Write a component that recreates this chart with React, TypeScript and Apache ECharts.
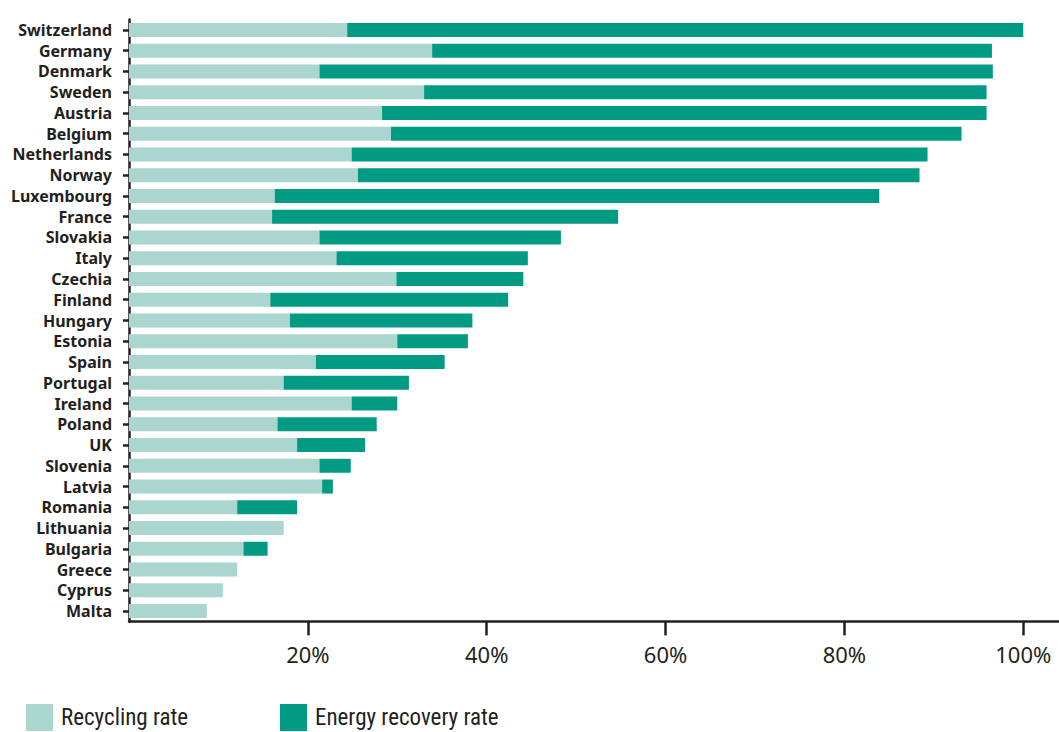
import React, { useEffect, useRef } from "react";
import * as echarts from "echarts";

const countries = [
  "Switzerland", "Germany", "Denmark", "Sweden", "Austria", "Belgium", "Netherlands", "Norway",
  "Luxembourg", "France", "Slovakia", "Italy", "Czechia", "Finland", "Hungary", "Estonia",
  "Spain", "Portugal", "Ireland", "Poland", "UK", "Slovenia", "Latvia", "Romania",
  "Lithuania", "Bulgaria", "Greece", "Cyprus", "Malta",
];

const recyclingRate = [
  24.4, 33.9, 21.3, 33.0, 28.3, 29.3, 24.9, 25.6,
  16.3, 16.0, 21.3, 23.2, 29.9, 15.8, 18.0, 30.0,
  20.9, 17.3, 24.9, 16.6, 18.8, 21.3, 21.6, 12.1,
  17.3, 12.8, 12.1, 10.5, 8.7,
];

const energyRecoveryRate = [
  75.6, 62.6, 75.3, 62.9, 67.6, 63.8, 64.4, 62.8,
  67.6, 38.7, 27.0, 21.4, 14.2, 26.6, 20.4, 7.9,
  14.4, 14.0, 5.1, 11.1, 7.6, 3.5, 1.2, 6.7,
  0, 2.7, 0, 0, 0,
];

const xTickValues = [20, 40, 60, 80, 100];

const DARK = "#231f20";
const LIGHT_GREEN = "#aad6cf";
const DARK_GREEN = "#009b82";

export default function App() {
  const ref = useRef<HTMLDivElement>(null);

  useEffect(() => {
    document.body.style.margin = "0";
    if (!ref.current) return;
    const chart = echarts.init(ref.current, null, { renderer: "svg" });
    const legendText = {
      color: DARK,
      fontSize: 23,
      lineHeight: 24,
      fontFamily: "'Liberation Sans Narrow', 'Roboto Condensed', 'Noto Sans', sans-serif",
      padding: [0, 0, 0, 3],
    };
    chart.setOption({
      animation: false,
      grid: { left: 129, right: 0, top: 19.6, bottom: 110.6 },
      legend: [
        {
          data: ["Recycling rate"],
          left: 26,
          top: 704,
          padding: 0,
          itemWidth: 27,
          itemHeight: 27,
          icon: "rect",
          textStyle: legendText,
          selectedMode: false,
        },
        {
          data: ["Energy recovery rate"],
          left: 280,
          top: 704,
          padding: 0,
          itemWidth: 27,
          itemHeight: 27,
          icon: "rect",
          textStyle: legendText,
          selectedMode: false,
        },
      ],
      xAxis: {
        type: "value",
        min: 0,
        max: 104,
        splitLine: { show: false },
        axisLine: { show: true, lineStyle: { color: DARK, width: 2.5 } },
        axisTick: {
          show: true,
          customValues: xTickValues,
          length: 14,
          lineStyle: { color: DARK, width: 2.5 },
        },
        axisLabel: {
          customValues: xTickValues,
          formatter: (v: number) => `${v}%`,
          color: DARK,
          fontSize: 22,
          margin: 22,
          fontFamily: "'Noto Sans', sans-serif",
        },
      },
      yAxis: {
        type: "category",
        data: countries,
        inverse: true,
        axisLine: { show: true, lineStyle: { color: DARK, width: 2.5 } },
        axisTick: {
          show: true,
          interval: 0,
          alignWithLabel: true,
          length: 6,
          lineStyle: { color: DARK, width: 2.5 },
        },
        axisLabel: {
          interval: 0,
          hideOverlap: false,
          color: DARK,
          fontSize: 16,
          lineHeight: 18,
          fontWeight: "bold",
          margin: 17,
          fontFamily: "'Noto Sans', 'Open Sans', sans-serif",
        },
      },
      series: [
        {
          name: "Recycling rate",
          type: "bar",
          stack: "total",
          barWidth: 14,
          itemStyle: { color: LIGHT_GREEN },
          data: recyclingRate,
        },
        {
          name: "Energy recovery rate",
          type: "bar",
          stack: "total",
          barWidth: 14,
          itemStyle: { color: DARK_GREEN },
          data: energyRecoveryRate,
        },
      ],
    });
    return () => chart.dispose();
  }, []);

  return <div ref={ref} style={{ width: 1059, height: 732 }} />;
}
